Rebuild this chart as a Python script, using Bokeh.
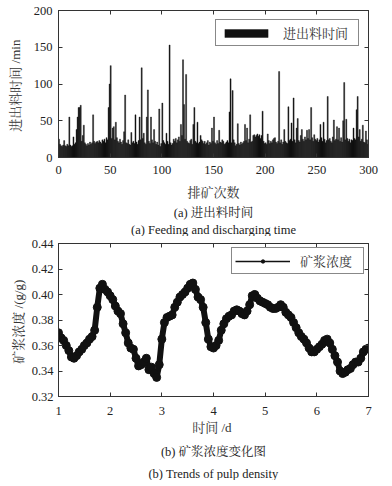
from bokeh.plotting import figure
from bokeh.layouts import column
from bokeh.models import (Range1d, FixedTicker, LinearAxis, Legend, LegendItem,
                          Title, CustomJSTickFormatter)
from bokeh.embed import file_html
from bokeh.resources import INLINE

# ---------------- data ----------------
feed_time = [
    25, 18, 16, 15, 17, 23, 16, 15, 18, 16, 55, 17, 15, 16, 28, 18, 20, 38, 55, 68,
    68, 71, 22, 30, 44, 20, 18, 16, 19, 17, 21, 18, 20, 58, 22, 19, 21, 22, 20, 23,
    21, 19, 24, 22, 25, 20, 27, 24, 68, 100, 125, 26, 40, 42, 24, 48, 27, 22, 20, 25,
    21, 18, 23, 35, 85, 20, 19, 24, 18, 17, 34, 20, 22, 19, 58, 21, 18, 23, 55, 24,
    122, 26, 33, 20, 18, 55, 92, 22, 19, 55, 24, 20, 38, 22, 18, 21, 17, 66, 15, 19,
    74, 23, 20, 18, 33, 22, 18, 153, 20, 17, 19, 25, 22, 26, 20, 24, 28, 22, 45, 30,
    133, 72, 25, 113, 22, 20, 19, 23, 25, 18, 45, 68, 22, 20, 48, 19, 21, 30, 24, 22,
    19, 22, 18, 20, 23, 17, 21, 19, 40, 22, 55, 20, 18, 23, 19, 37, 21, 20, 24, 22,
    18, 19, 21, 23, 20, 62, 107, 20, 91, 24, 20, 16, 18, 46, 19, 17, 21, 18, 20, 22,
    45, 23, 40, 20, 25, 58, 21, 22, 30, 31, 28, 30, 32, 29, 31, 26, 30, 63, 22, 19,
    20, 18, 32, 23, 19, 22, 20, 24, 26, 27, 21, 19, 22, 117, 20, 24, 18, 21, 38, 22,
    20, 19, 69, 23, 25, 47, 22, 81, 24, 20, 40, 53, 23, 21, 30, 38, 25, 22, 28, 24,
    37, 26, 38, 24, 68, 27, 22, 31, 25, 23, 26, 21, 24, 45, 27, 22, 48, 25, 20, 23,
    83, 24, 26, 22, 20, 28, 51, 23, 25, 42, 24, 40, 22, 27, 21, 50, 102, 24, 52, 26,
    22, 25, 20, 24, 23, 40, 26, 24, 65, 83, 28, 38, 22, 25, 44, 21, 20, 36, 24, 18,
]
discharge_no = [i + 0.5 for i in range(len(feed_time))]

days = [1.00, 1.05, 1.10, 1.15, 1.20, 1.25, 1.30, 1.35, 1.40, 1.45,
        1.50, 1.55, 1.60, 1.65, 1.70, 1.75, 1.80, 1.85, 1.90, 1.95,
        2.00, 2.05, 2.10, 2.15, 2.20, 2.25, 2.30, 2.35, 2.40, 2.45,
        2.50, 2.55, 2.60, 2.65, 2.70, 2.75, 2.80, 2.85, 2.90, 2.95,
        3.00, 3.05, 3.10, 3.15, 3.20, 3.25, 3.30, 3.35, 3.40, 3.45,
        3.50, 3.55, 3.60, 3.65, 3.70, 3.75, 3.80, 3.85, 3.90, 3.95,
        4.00, 4.05, 4.10, 4.15, 4.20, 4.25, 4.30, 4.35, 4.40, 4.45,
        4.50, 4.55, 4.60, 4.65, 4.70, 4.75, 4.80, 4.85, 4.90, 4.95,
        5.00, 5.05, 5.10, 5.15, 5.20, 5.25, 5.30, 5.35, 5.40, 5.45,
        5.50, 5.55, 5.60, 5.65, 5.70, 5.75, 5.80, 5.85, 5.90, 5.95,
        6.00, 6.05, 6.10, 6.15, 6.20, 6.25, 6.30, 6.35, 6.40, 6.45,
        6.50, 6.55, 6.60, 6.65, 6.70, 6.75, 6.80, 6.85, 6.90, 6.95, 7.00]
density = [0.370, 0.366, 0.364, 0.360, 0.356, 0.351, 0.350, 0.352, 0.355, 0.357,
           0.360, 0.362, 0.365, 0.367, 0.372, 0.390, 0.405, 0.408, 0.404, 0.402,
           0.399, 0.396, 0.391, 0.387, 0.385, 0.377, 0.370, 0.362, 0.358, 0.357,
           0.350, 0.344, 0.345, 0.347, 0.350, 0.341, 0.343, 0.338, 0.335, 0.345,
           0.365, 0.378, 0.382, 0.383, 0.384, 0.390, 0.394, 0.398, 0.400, 0.402,
           0.405, 0.408, 0.409, 0.404, 0.398, 0.396, 0.390, 0.378, 0.365, 0.359,
           0.358, 0.360, 0.364, 0.372, 0.377, 0.381, 0.383, 0.384, 0.387, 0.388,
           0.387, 0.385, 0.384, 0.387, 0.392, 0.399, 0.400, 0.397, 0.395, 0.394,
           0.393, 0.392, 0.390, 0.389, 0.389, 0.390, 0.392, 0.390, 0.386, 0.384,
           0.382, 0.378, 0.374, 0.370, 0.367, 0.365, 0.362, 0.358, 0.355, 0.355,
           0.357, 0.359, 0.361, 0.364, 0.365, 0.362, 0.357, 0.352, 0.347, 0.340,
           0.338, 0.339, 0.341, 0.342, 0.345, 0.347, 0.347, 0.350, 0.355, 0.357, 0.358]

x1_ticks = [0, 50, 100, 150, 200, 250, 300]
y1_ticks = [0, 50, 100, 150, 200]
x2_ticks = [1, 2, 3, 4, 5, 6, 7]
y2_ticks = [0.32, 0.34, 0.36, 0.38, 0.40, 0.42, 0.44]

SERIF = "'Liberation Serif', 'Noto Serif CJK SC', 'Noto Sans CJK SC', serif"
TXT = "#222222"
FS = "12.5px"


def style_axis(ax, ticks, show_labels=True, standoff=8):
    ax.ticker = FixedTicker(ticks=ticks)
    ax.major_tick_in = 4
    ax.major_tick_out = 0
    ax.minor_tick_in = 0
    ax.minor_tick_out = 0
    ax.axis_line_color = "#333333"
    ax.major_tick_line_color = "#333333"
    ax.major_label_text_font = SERIF
    ax.major_label_text_color = TXT
    ax.major_label_text_font_size = FS
    ax.major_label_standoff = standoff
    if not show_labels:
        ax.formatter = CustomJSTickFormatter(code="return '';")
        ax.major_label_standoff = 0
        ax.major_label_text_font_size = "1px"
    ax.axis_label_text_font = SERIF
    ax.axis_label_text_font_style = "normal"
    ax.axis_label_text_font_size = "13px"
    ax.axis_label_text_color = "#333333"


def caption(p, text, standoff):
    t = Title(text=text, align="center", text_font=SERIF, text_font_size=FS,
              text_font_style="normal", text_color=TXT, offset=0, standoff=standoff)
    p.add_layout(t, "below")


def make_fig(w, h, xr, yr, mbl, mbr, mbt, mbb):
    p = figure(width=w, height=h, x_range=xr, y_range=yr, output_backend="svg",
               toolbar_location=None, min_border_left=mbl, min_border_right=mbr,
               min_border_top=mbt, min_border_bottom=mbb)
    p.xgrid.visible = False
    p.ygrid.visible = False
    p.outline_line_color = "#333333"
    p.background_fill_color = "white"
    p.border_fill_color = "white"
    return p


# ---------------- figure (a) ----------------
p1 = make_fig(392, 236, Range1d(0, 300), Range1d(0, 200), 56, 21, 10, 0)
bars = p1.vbar(x=discharge_no, top=feed_time, width=1.0,
               fill_color="#111111", line_color="#111111", line_width=0.4)
style_axis(p1.xaxis[0], x1_ticks, standoff=8)
style_axis(p1.yaxis[0], y1_ticks, standoff=6)
p1.xaxis[0].axis_label = "排矿次数"
p1.xaxis[0].axis_label_standoff = 8
p1.yaxis[0].axis_label = "进出料时间  /min"
p1.yaxis[0].axis_label_standoff = 8
ax_top = LinearAxis()
style_axis(ax_top, x1_ticks, show_labels=False)
p1.add_layout(ax_top, "above")
ax_right = LinearAxis()
style_axis(ax_right, y1_ticks, show_labels=False)
p1.add_layout(ax_right, "right")
leg1 = Legend(items=[LegendItem(label="进出料时间", renderers=[bars])],
              location="top_right", glyph_width=54, glyph_height=10,
              label_text_font=SERIF, label_text_font_size="13px",
              label_text_color="#333333", label_standoff=10, padding=3,
              margin=9, border_line_color="#111111", border_line_width=1,
              label_width=72, label_height=10, background_fill_alpha=1.0)
p1.add_layout(leg1)
caption(p1, "(a) 进出料时间", 2)
caption(p1, "(a) Feeding and discharging time", 0)

# ---------------- figure (b) ----------------
p2 = make_fig(392, 244, Range1d(1, 7), Range1d(0.32, 0.44), 58, 24, 7, 0)
ln = p2.line(x=days, y=density, line_width=6, line_color="#111111", line_join="round")
pts = p2.scatter(x=days, y=density, marker="circle", size=8,
                 fill_color="#111111", line_color="#111111")
# legend-only glyphs: hidden copies drawn thin, shown only in the legend
leg_ln = p2.line(x=days, y=density, line_width=1.5, line_color="#111111", visible=False)
leg_pt = p2.scatter(x=days, y=density, marker="asterisk", size=6,
                    line_color="#111111", line_width=1.5, visible=False)
style_axis(p2.xaxis[0], x2_ticks, standoff=10)
style_axis(p2.yaxis[0], y2_ticks, standoff=5)
p2.yaxis[0].formatter = CustomJSTickFormatter(code="return tick.toFixed(2);")
p2.xaxis[0].axis_label = "时间  /d"
p2.xaxis[0].axis_label_standoff = 2
p2.yaxis[0].axis_label = "矿浆浓度  /(g/g)"
p2.yaxis[0].axis_label_standoff = 3
ax_top2 = LinearAxis()
style_axis(ax_top2, x2_ticks, show_labels=False)
p2.add_layout(ax_top2, "above")
ax_right2 = LinearAxis()
style_axis(ax_right2, y2_ticks, show_labels=False)
p2.add_layout(ax_right2, "right")
leg2 = Legend(items=[LegendItem(label="矿浆浓度", renderers=[leg_ln, leg_pt])],
              location="top_right", glyph_width=55, glyph_height=10,
              label_text_font=SERIF, label_text_font_size="13px",
              label_text_color="#333333", label_standoff=10, padding=3,
              margin=4, border_line_color="#111111", border_line_width=1,
              label_width=60, label_height=10, background_fill_alpha=1.0,
              inactive_fill_alpha=0.0)
p2.add_layout(leg2)
caption(p2, "(b) 矿浆浓度变化图", 11)
caption(p2, "(b) Trends of pulp density", 0)

layout = column(p1, p2, spacing=0)
open("out.html", "w").write(file_html(layout, INLINE))
